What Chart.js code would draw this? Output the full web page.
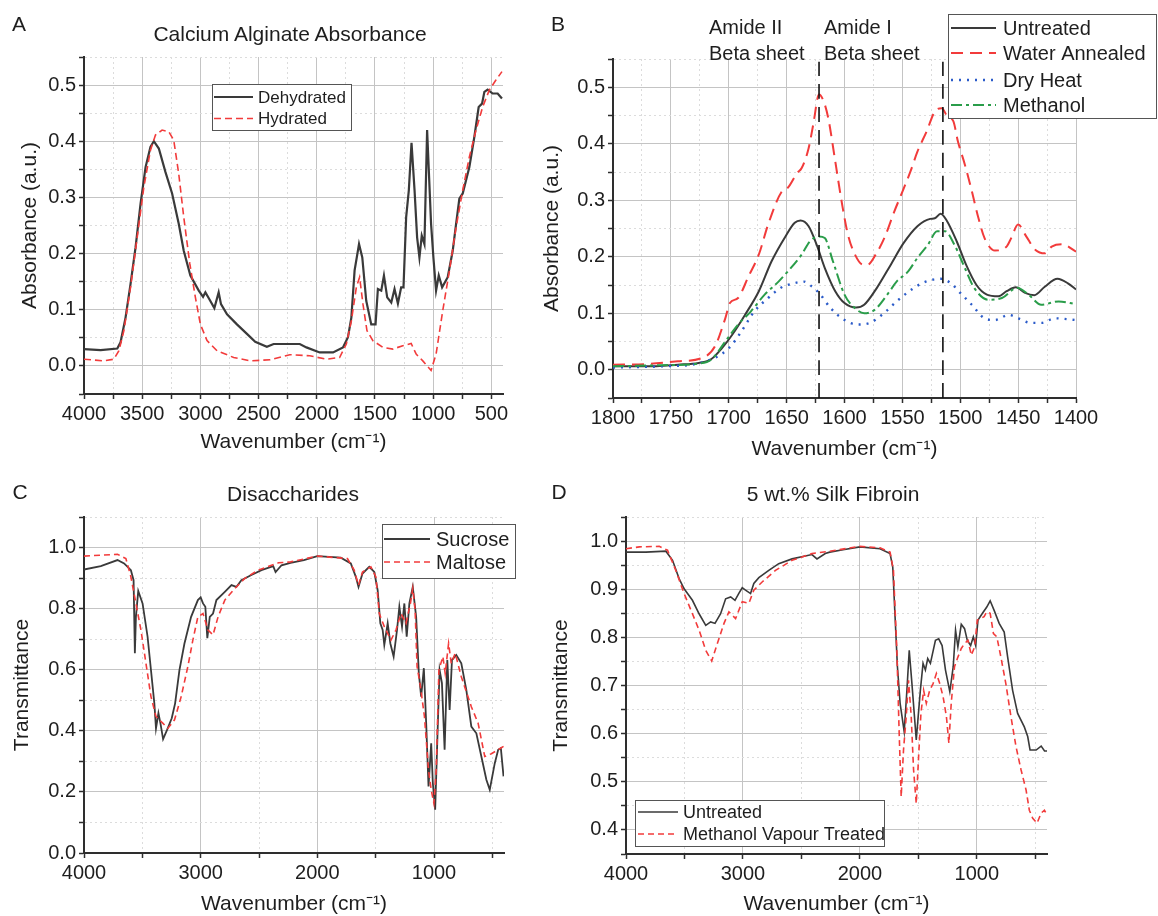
<!DOCTYPE html>
<html>
<head>
<meta charset="utf-8">
<script src="https://cdn.jsdelivr.net/npm/chart.js@4.4.1/dist/chart.umd.min.js"></script>
<style>
body { margin: 0; background: #fff; }
#fig { position: relative; width: 1158px; height: 916px; overflow: hidden; font-family: "Liberation Sans", Arial, sans-serif; color: #1e1e1e; }
canvas { position: absolute; }
.c { position: absolute; white-space: nowrap; font-size: 21px; transform: translate(-50%, -50%); }
.l { position: absolute; white-space: nowrap; font-size: 20px; transform: translateY(-50%); }
</style>
</head>
<body>
<div id="fig">
  <canvas id="pa" width="540" height="470" style="left:0;top:0"></canvas>
  <canvas id="pb" width="618" height="470" style="left:540px;top:0"></canvas>
  <canvas id="pc" width="540" height="466" style="left:0;top:450px"></canvas>
  <canvas id="pd" width="618" height="466" style="left:540px;top:450px"></canvas>

  <div class="c" style="left:19px;top:24px">A</div>
  <div class="c" style="left:558px;top:24px">B</div>
  <div class="c" style="left:20px;top:492px">C</div>
  <div class="c" style="left:559px;top:492px">D</div>

  <div class="c" style="left:290px;top:34px">Calcium Alginate Absorbance</div>
  <div class="c" style="left:293px;top:494px">Disaccharides</div>
  <div class="c" style="left:833px;top:494px">5 wt.% Silk Fibroin</div>

  <div class="l" style="left:709px;top:27px">Amide II</div>
  <div class="l" style="left:709px;top:53px">Beta sheet</div>
  <div class="l" style="left:824px;top:27px">Amide I</div>
  <div class="l" style="left:824px;top:53px">Beta sheet</div>
</div>
<script>
// ---- A: calcium alginate absorbance [wavenumber, absorbance]
const alginateDehydrated = [[4000,0.030],[3857,0.028],[3714,0.031],[3686,0.042],[3643,0.086],[3600,0.146],[3557,0.211],[3514,0.289],[3471,0.354],[3429,0.390],[3400,0.400],[3357,0.387],[3300,0.345],[3243,0.307],[3186,0.253],[3143,0.205],[3086,0.161],[3014,0.134],[2977,0.123],[2957,0.131],[2929,0.121],[2880,0.103],[2843,0.131],[2823,0.110],[2771,0.092],[2686,0.074],[2600,0.057],[2529,0.043],[2429,0.034],[2371,0.039],[2232,0.039],[2146,0.039],[2089,0.033],[1975,0.024],[1860,0.024],[1775,0.033],[1732,0.051],[1703,0.086],[1675,0.170],[1637,0.217],[1609,0.193],[1575,0.116],[1532,0.074],[1495,0.074],[1475,0.137],[1446,0.134],[1423,0.161],[1395,0.122],[1360,0.113],[1332,0.137],[1303,0.111],[1275,0.140],[1255,0.140],[1232,0.265],[1209,0.313],[1186,0.397],[1160,0.313],[1138,0.229],[1118,0.193],[1098,0.232],[1075,0.217],[1052,0.420],[1018,0.253],[998,0.193],[975,0.134],[952,0.161],[923,0.140],[875,0.158],[832,0.205],[803,0.253],[775,0.298],[746,0.307],[689,0.354],[646,0.408],[609,0.461],[580,0.467],[560,0.488],[532,0.492],[489,0.485],[446,0.485],[409,0.476]];
const alginateHydrated = [[4000,0.012],[3829,0.009],[3743,0.012],[3700,0.027],[3657,0.063],[3600,0.140],[3543,0.229],[3486,0.318],[3429,0.384],[3386,0.411],[3329,0.420],[3271,0.417],[3229,0.402],[3186,0.342],[3143,0.265],[3091,0.182],[3043,0.122],[3000,0.074],[2943,0.045],[2857,0.027],[2714,0.015],[2571,0.009],[2400,0.011],[2232,0.020],[2060,0.018],[1918,0.012],[1804,0.015],[1746,0.039],[1703,0.080],[1660,0.140],[1632,0.158],[1603,0.110],[1569,0.063],[1518,0.045],[1432,0.033],[1346,0.030],[1261,0.036],[1189,0.040],[1146,0.021],[1089,0.009],[1018,-0.008],[975,0.021],[918,0.098],[860,0.170],[803,0.247],[746,0.313],[689,0.372],[632,0.420],[575,0.461],[518,0.491],[461,0.509],[409,0.524]];

// ---- B: silk amide region
const amideMarkers = [1622, 1515];
const silkUntreated = [[1800,0.006],[1772,0.006],[1744,0.009],[1726,0.012],[1715,0.019],[1706,0.038],[1697,0.062],[1686,0.097],[1674,0.139],[1663,0.192],[1651,0.236],[1643,0.260],[1638,0.264],[1631,0.254],[1624,0.221],[1617,0.180],[1608,0.139],[1600,0.118],[1590,0.110],[1583,0.115],[1572,0.145],[1560,0.186],[1549,0.224],[1537,0.254],[1526,0.267],[1522,0.268],[1517,0.276],[1512,0.265],[1503,0.227],[1495,0.186],[1486,0.150],[1477,0.133],[1467,0.130],[1460,0.139],[1452,0.146],[1444,0.136],[1436,0.132],[1427,0.147],[1416,0.161],[1407,0.153],[1400,0.142]];
const silkWaterAnnealed = [[1800,0.009],[1772,0.010],[1744,0.015],[1723,0.021],[1712,0.041],[1703,0.091],[1699,0.118],[1692,0.127],[1683,0.165],[1674,0.204],[1666,0.257],[1654,0.316],[1649,0.322],[1641,0.348],[1637,0.357],[1631,0.392],[1627,0.434],[1622,0.487],[1618,0.475],[1614,0.445],[1608,0.369],[1602,0.292],[1597,0.239],[1591,0.204],[1584,0.186],[1580,0.186],[1573,0.204],[1565,0.236],[1557,0.280],[1551,0.310],[1543,0.351],[1537,0.386],[1529,0.422],[1522,0.457],[1516,0.463],[1511,0.448],[1506,0.440],[1502,0.404],[1496,0.363],[1490,0.316],[1485,0.274],[1479,0.233],[1470,0.211],[1460,0.218],[1456,0.233],[1450,0.257],[1443,0.236],[1435,0.212],[1427,0.206],[1421,0.218],[1412,0.222],[1400,0.209]];
const silkDryHeat = [[1800,0.004],[1758,0.006],[1729,0.010],[1712,0.021],[1700,0.038],[1689,0.068],[1678,0.103],[1666,0.127],[1655,0.145],[1644,0.153],[1635,0.156],[1630,0.150],[1622,0.136],[1612,0.109],[1600,0.088],[1589,0.080],[1578,0.083],[1566,0.100],[1555,0.121],[1542,0.142],[1531,0.155],[1517,0.161],[1508,0.153],[1500,0.136],[1490,0.115],[1479,0.091],[1470,0.088],[1458,0.097],[1450,0.091],[1439,0.083],[1430,0.083],[1418,0.091],[1400,0.088]];
const silkMethanol = [[1800,0.006],[1758,0.008],[1726,0.011],[1715,0.018],[1703,0.050],[1692,0.080],[1681,0.103],[1669,0.133],[1657,0.156],[1649,0.174],[1637,0.204],[1630,0.227],[1622,0.236],[1617,0.233],[1610,0.192],[1600,0.133],[1591,0.109],[1583,0.100],[1574,0.106],[1562,0.136],[1555,0.156],[1545,0.174],[1537,0.198],[1528,0.221],[1520,0.245],[1513,0.245],[1505,0.221],[1496,0.180],[1488,0.145],[1476,0.124],[1464,0.127],[1451,0.145],[1441,0.133],[1430,0.115],[1415,0.121],[1400,0.116]];

// ---- C: disaccharides transmittance
const sucrose = [[4000,0.928],[3856,0.939],[3713,0.959],[3656,0.948],[3598,0.926],[3575,0.893],[3564,0.654],[3555,0.773],[3535,0.858],[3498,0.817],[3455,0.708],[3426,0.599],[3397,0.490],[3383,0.408],[3362,0.458],[3345,0.425],[3322,0.373],[3288,0.403],[3248,0.441],[3219,0.490],[3182,0.599],[3139,0.686],[3082,0.773],[3024,0.828],[3000,0.837],[2980,0.817],[2960,0.806],[2943,0.703],[2922,0.773],[2894,0.784],[2865,0.828],[2793,0.855],[2736,0.877],[2694,0.871],[2651,0.893],[2565,0.910],[2479,0.926],[2378,0.939],[2358,0.920],[2307,0.942],[2230,0.950],[2115,0.959],[2000,0.972],[1799,0.967],[1713,0.948],[1670,0.904],[1647,0.871],[1613,0.915],[1555,0.937],[1512,0.920],[1483,0.861],[1460,0.752],[1440,0.730],[1426,0.681],[1397,0.752],[1374,0.686],[1346,0.643],[1317,0.730],[1297,0.806],[1274,0.741],[1254,0.817],[1234,0.708],[1211,0.817],[1182,0.871],[1153,0.773],[1130,0.588],[1110,0.512],[1087,0.605],[1067,0.425],[1047,0.218],[1024,0.359],[1010,0.229],[990,0.142],[967,0.425],[952,0.599],[932,0.556],[909,0.338],[886,0.632],[866,0.468],[846,0.632],[809,0.648],[766,0.621],[723,0.534],[680,0.414],[637,0.392],[594,0.316],[551,0.240],[522,0.207],[479,0.294],[450,0.338],[427,0.343],[404,0.251]];
const maltose = [[4000,0.972],[3713,0.978],[3641,0.964],[3598,0.904],[3555,0.817],[3512,0.730],[3469,0.621],[3426,0.512],[3383,0.447],[3325,0.425],[3282,0.408],[3224,0.436],[3167,0.512],[3110,0.610],[3067,0.697],[3024,0.773],[2980,0.784],[2937,0.730],[2894,0.714],[2851,0.773],[2793,0.828],[2707,0.866],[2622,0.899],[2506,0.926],[2333,0.950],[2230,0.953],[2000,0.972],[1742,0.964],[1684,0.926],[1647,0.877],[1613,0.920],[1541,0.937],[1498,0.904],[1469,0.784],[1426,0.741],[1369,0.697],[1326,0.730],[1283,0.784],[1240,0.752],[1202,0.817],[1182,0.866],[1162,0.795],[1145,0.610],[1116,0.545],[1082,0.447],[1047,0.272],[1024,0.207],[1001,0.163],[981,0.272],[958,0.599],[924,0.643],[904,0.588],[875,0.686],[852,0.621],[818,0.654],[766,0.577],[680,0.479],[622,0.425],[565,0.316],[508,0.325],[450,0.338],[404,0.349]];

// ---- D: 5 wt.% silk fibroin transmittance
const fibroinUntreated = [[4000,0.977],[3830,0.977],[3659,0.979],[3602,0.960],[3546,0.922],[3503,0.901],[3432,0.877],[3375,0.849],[3318,0.825],[3276,0.832],[3239,0.829],[3191,0.849],[3148,0.880],[3105,0.884],[3068,0.877],[3034,0.892],[3006,0.903],[2978,0.898],[2935,0.891],[2907,0.912],[2864,0.924],[2779,0.939],[2694,0.953],[2580,0.963],[2410,0.972],[2367,0.963],[2296,0.974],[2258,0.977],[2144,0.982],[2000,0.988],[1828,0.984],[1742,0.974],[1719,0.946],[1699,0.842],[1679,0.739],[1656,0.663],[1621,0.604],[1598,0.690],[1578,0.773],[1555,0.704],[1518,0.587],[1483,0.690],[1460,0.746],[1440,0.732],[1420,0.756],[1397,0.746],[1354,0.794],[1326,0.797],[1297,0.783],[1268,0.732],[1231,0.687],[1202,0.739],[1182,0.815],[1162,0.780],[1133,0.827],[1105,0.818],[1082,0.794],[1053,0.783],[1030,0.801],[1010,0.783],[990,0.836],[952,0.850],[915,0.863],[886,0.876],[852,0.856],[809,0.829],[766,0.811],[737,0.760],[694,0.690],[651,0.642],[594,0.614],[565,0.594],[545,0.566],[493,0.566],[450,0.574],[421,0.564],[400,0.564]];
const fibroinMethanol = [[4000,0.984],[3886,0.988],[3716,0.989],[3645,0.981],[3574,0.939],[3503,0.891],[3432,0.849],[3375,0.815],[3318,0.773],[3267,0.751],[3219,0.787],[3162,0.829],[3120,0.853],[3063,0.839],[3006,0.874],[2949,0.871],[2907,0.898],[2836,0.915],[2722,0.939],[2580,0.960],[2410,0.974],[2258,0.979],[2000,0.989],[1828,0.986],[1742,0.977],[1713,0.939],[1684,0.773],[1664,0.601],[1647,0.469],[1627,0.566],[1604,0.635],[1584,0.711],[1561,0.635],[1541,0.525],[1518,0.455],[1498,0.552],[1478,0.642],[1455,0.690],[1432,0.663],[1403,0.690],[1374,0.704],[1346,0.725],[1317,0.704],[1288,0.676],[1260,0.635],[1239,0.580],[1219,0.663],[1191,0.739],[1162,0.759],[1133,0.777],[1105,0.787],[1076,0.794],[1047,0.763],[1019,0.780],[996,0.836],[967,0.839],[938,0.843],[915,0.853],[886,0.850],[858,0.808],[829,0.801],[795,0.760],[752,0.704],[708,0.635],[665,0.573],[622,0.525],[579,0.483],[551,0.441],[522,0.424],[485,0.414],[450,0.435],[422,0.441],[400,0.431]];

const FONT = '"Liberation Sans", Arial, sans-serif';
const DARK = '#3a3a3a', RED = '#f23b3b', BLUE = '#2b5bc9', GREEN = '#2a9d4a';
const GRID = '#c4c4c4', MINOR = '#dcdcdc', AXIS = '#2e2e2e';
const WAVE = 'Wavenumber (cm\u207B\u00B9)';

function isMajor(v, step) {
  const r = v / step;
  return Math.abs(r - Math.round(r)) < 1e-6;
}

// one axis, major ticks labelled, minor ticks as dotted grid
function axis(o) {
  const horiz = o.pos === 'bottom';
  return {
    type: 'linear', position: o.pos, min: o.min, max: o.max, reverse: !!o.reverse,
    afterFit: s => { if (horiz) s.height = o.size; else s.width = o.size; },
    // fixed tick positions on every minor step (chart.js would otherwise respace them)
    afterBuildTicks: s => {
      const t = [];
      for (let k = Math.ceil(o.min / o.minor - 1e-9); k * o.minor <= o.max + 1e-9; k++) {
        t.push({ value: +(k * o.minor).toFixed(4) });
      }
      s.ticks = t;
    },
    ticks: {
      autoSkip: false, maxRotation: 0,
      padding: 3, color: '#1e1e1e', font: { family: FONT, size: 20 },
      callback: v => isMajor(v, o.major) ? o.fmt(v) : ''
    },
    grid: {
      color: c => (c.tick && isMajor(c.tick.value, o.major)) ? GRID : MINOR,
      lineWidth: 1, tickColor: AXIS, tickLength: 5, tickWidth: 1.5
    },
    border: {
      color: AXIS, width: 2,
      dash: c => (c.tick && !isMajor(c.tick.value, o.major)) ? [2, 3] : []
    },
    title: {
      display: true, text: o.title, color: '#1e1e1e',
      font: { family: FONT, size: 21, lineHeight: 1 },
      padding: horiz ? { top: 0, bottom: o.tpad } : { top: o.tpad, bottom: 0 }
    }
  };
}

// boxed legend drawn inside the canvas like the original
const boxLegend = {
  id: 'boxLegend',
  afterDraw(chart, args, o) {
    if (!o || !o.rows) return;
    const ctx = chart.ctx;
    ctx.save();
    ctx.fillStyle = '#fff';
    ctx.fillRect(o.x, o.y, o.w, o.h);
    ctx.strokeStyle = '#555';
    ctx.lineWidth = 1;
    ctx.strokeRect(o.x + 0.5, o.y + 0.5, o.w, o.h);
    ctx.font = o.size + 'px ' + FONT;
    ctx.textBaseline = 'middle';
    chart.data.datasets.filter(d => d.label).forEach((d, i) => {
      const y = o.rows[i];
      ctx.strokeStyle = d.borderColor;
      ctx.lineWidth = d.borderWidth;
      ctx.lineCap = d.borderCapStyle || 'butt';
      ctx.setLineDash(d.borderDash || []);
      ctx.beginPath();
      ctx.moveTo(o.x + o.s0, y);
      ctx.lineTo(o.x + o.s1, y);
      ctx.stroke();
      ctx.setLineDash([]);
      ctx.fillStyle = '#1e1e1e';
      ctx.fillText(d.label, o.x + o.tx, y + 1);
    });
    ctx.restore();
  }
};

function ser(label, pts, color, width, dash, order, extra) {
  return Object.assign({
    label: label, data: pts, borderColor: color, borderWidth: width,
    borderDash: dash, fill: false, pointRadius: 0, order: order
  }, extra || {});
}

function panel(id, datasets, xa, ya, pad, legend, lineOpts) {
  return new Chart(document.getElementById(id), {
    type: 'line',
    data: { datasets: datasets },
    options: {
      responsive: false, animation: false, events: [],
      layout: { autoPadding: false, padding: { left: 0, top: pad.top, right: pad.right, bottom: 0 } },
      scales: { x: axis(Object.assign({ pos: 'bottom' }, xa)), y: axis(Object.assign({ pos: 'left' }, ya)) },
      plugins: { legend: { display: false }, tooltip: { enabled: false }, boxLegend: legend },
      elements: { point: { radius: 0 }, line: lineOpts || { tension: 0 } }
    },
    plugins: [boxLegend]
  });
}

const f1 = v => v.toFixed(1);
const f0 = v => String(Math.round(v));

// A
panel('pa', [
  ser('Dehydrated', alginateDehydrated, DARK, 2.2, [], 2),
  ser('Hydrated', alginateHydrated, RED, 1.6, [7, 4], 1)
], { min: 400, max: 4000, reverse: true, major: 500, minor: 250, fmt: f0, title: WAVE, size: 76, tpad: 17 },
   { min: -0.05, max: 0.55, major: 0.1, minor: 0.05, fmt: f1, title: 'Absorbance (a.u.)', size: 84, tpad: 20 },
   { top: 57, right: 37 },
   { x: 212, y: 84, w: 139, h: 46, s0: 2, s1: 41, tx: 46, rows: [97, 118.5], size: 17 });

// B
const markerSets = amideMarkers.map(w => ser('', [[w, -0.05], [w, 0.545]], '#111', 1.6, [15, 8], 0));
panel('pb', [
  ser('Untreated', silkUntreated, DARK, 2, [], 4),
  ser('Water Annealed', silkWaterAnnealed, RED, 2, [12, 7], 3),
  ser('Dry Heat', silkDryHeat, BLUE, 2.4, [2, 6], 2),
  ser('Methanol', silkMethanol, GREEN, 2, [11, 4, 3, 4], 1)
].concat(markerSets),
   { min: 1400, max: 1800, reverse: true, major: 50, minor: 25, fmt: f0, title: WAVE, size: 72, tpad: 10 },
   { min: -0.05, max: 0.55, major: 0.1, minor: 0.05, fmt: f1, title: 'Absorbance (a.u.)', size: 73, tpad: 2 },
   { top: 59, right: 82 },
   { x: 408, y: 14, w: 208, h: 104, s0: 3, s1: 48, tx: 55, rows: [28, 53, 80, 105], size: 20 },
   { cubicInterpolationMode: 'monotone' });

// C
panel('pc', [
  ser('Sucrose', sucrose, DARK, 1.8, [], 2),
  ser('Maltose', maltose, RED, 1.6, [6, 4], 1)
], { min: 400, max: 4000, reverse: true, major: 1000, minor: 500, fmt: f0, title: WAVE, size: 63, tpad: 1 },
   { min: 0, max: 1.1, major: 0.2, minor: 0.1, fmt: f1, title: 'Transmittance', size: 84, tpad: 12 },
   { top: 67, right: 36 },
   { x: 382, y: 74, w: 133, h: 54, s0: 2, s1: 48, tx: 54, rows: [89, 112], size: 20 });

// D
panel('pd', [
  ser('Untreated', fibroinUntreated, DARK, 1.6, [], 2),
  ser('Methanol Vapour Treated', fibroinMethanol, RED, 1.6, [6, 4], 1)
], { min: 400, max: 4000, reverse: true, major: 1000, minor: 500, fmt: f0, title: WAVE, size: 62, tpad: 1 },
   { min: 0.35, max: 1.05, major: 0.1, minor: 0.05, fmt: f1, title: 'Transmittance', size: 86, tpad: 11 },
   { top: 67, right: 111 },
   { x: 95, y: 350, w: 249, h: 46, s0: 3, s1: 43, tx: 48, rows: [362, 384], size: 18 });
</script>
</body>
</html>
